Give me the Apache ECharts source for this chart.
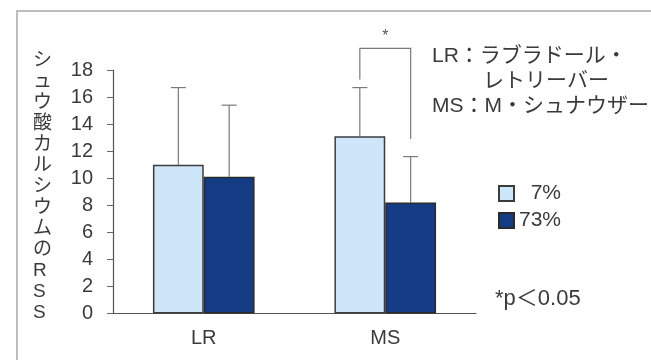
<!DOCTYPE html>
<html>
<head>
<meta charset="utf-8">
<script src="https://cdn.jsdelivr.net/npm/echarts@6/dist/echarts.min.js"></script>
<style>
  html, body { margin: 0; padding: 0; background: #fff; }
  #chart { width: 651px; height: 360px; }
</style>
</head>
<body>
<div id="chart"></div>
<script>
// Urine calcium oxalate RSS by breed and diet group
const categories = ['LR', 'MS'];
const seriesNames = ['7%', '73%'];
const rss7 = [11.0, 13.1];
const rss73 = [10.1, 8.2];
const sdUpper7 = [16.7, 16.7];
const sdUpper73 = [15.4, 11.6];
const yTicks = [0, 2, 4, 6, 8, 10, 12, 14, 16, 18];

// significance bracket over MS (value-space heights of its legs and top)
const sigCategory = 1;
const sigLeftLeg = 17.3;
const sigRightLeg = 12.9;
const sigTop = 19.6;
const sigStarLevel = 20.5;

const FONT = '"Liberation Sans", "Noto Sans CJK JP", sans-serif';
const TEXT = '#3a3a3a';
const LIGHT = '#cde6fa';
const DARK = '#143c84';
const CAT_GAP = 0.44;

const chart = echarts.init(document.getElementById('chart'), null, { renderer: 'canvas' });

const errData = [];
categories.forEach((c, i) => {
  errData.push([i, 0, rss7[i], sdUpper7[i]]);
  errData.push([i, 1, rss73[i], sdUpper73[i]]);
});

function barCenter(api, cat, s) {
  const band = api.size([1, 0])[0];
  const bw = band * (1 - CAT_GAP) / 2;
  return api.coord([cat, 0])[0] + (s === 0 ? -bw / 2 : bw / 2);
}

const yAxisTitle = 'シュウ酸カルシウムのRSS'.split('').join('\n');

chart.setOption({
  backgroundColor: '#fff',
  animation: false,
  grid: { left: 113, right: 175, top: 70, bottom: 46.5 },
  legend: {
    orient: 'vertical',
    left: 493,
    top: 178,
    itemWidth: 15,
    itemHeight: 15,
    itemGap: 6,
    icon: 'rect',
    data: seriesNames,
    formatter: n => (n === '7%' ? '\u20077%' : n),
    textStyle: { fontFamily: FONT, fontSize: 21, color: TEXT, lineHeight: 20 }
  },
  xAxis: {
    type: 'category',
    data: categories,
    axisLine: { lineStyle: { color: '#555', width: 1.2 } },
    axisTick: { length: 7, lineStyle: { color: '#666' } },
    axisLabel: { fontFamily: FONT, fontSize: 20, color: TEXT, margin: 15 }
  },
  yAxis: {
    type: 'value',
    min: 0,
    max: 18,
    interval: 2,
    splitLine: { show: false },
    axisLine: { show: true, lineStyle: { color: '#555', width: 1.2 } },
    axisTick: { show: true, length: 6, lineStyle: { color: '#666' } },
    axisLabel: {
      fontFamily: FONT, fontSize: 20, color: TEXT, margin: 20,
      formatter: v => (yTicks.includes(v) ? String(v) : '')
    }
  },
  series: [
    {
      name: seriesNames[0],
      type: 'bar',
      data: rss7,
      barGap: '0%',
      barCategoryGap: '44%',
      z: 3,
      itemStyle: { color: LIGHT, borderColor: '#3c3c3c', borderWidth: 1.5 }
    },
    {
      name: seriesNames[1],
      type: 'bar',
      data: rss73,
      barGap: '0%',
      barCategoryGap: '44%',
      z: 3,
      itemStyle: { color: DARK, borderColor: '#2a2a2a', borderWidth: 1.5 }
    },
    {
      // SD whiskers above each bar
      type: 'custom',
      z: 2,
      silent: true,
      clip: false,
      data: errData,
      renderItem: (params, api) => {
        const cat = api.value(0), s = api.value(1);
        const x = barCenter(api, cat, s);
        const y0 = api.coord([cat, api.value(2)])[1];
        const y1 = api.coord([cat, api.value(3)])[1];
        const st = { stroke: '#7a7a7a', lineWidth: 1.2 };
        return {
          type: 'group',
          children: [
            { type: 'line', shape: { x1: x, y1: y0, x2: x, y2: y1 }, style: st },
            { type: 'line', shape: { x1: x - 7.5, y1: y1, x2: x + 7.5, y2: y1 }, style: st }
          ]
        };
      }
    },
    {
      // significance bracket with asterisk
      type: 'custom',
      z: 4,
      silent: true,
      clip: false,
      data: [[sigCategory, sigLeftLeg, sigRightLeg, sigTop, sigStarLevel]],
      renderItem: (params, api) => {
        const cat = api.value(0);
        const xl = barCenter(api, cat, 0);
        const xr = barCenter(api, cat, 1);
        const yl = api.coord([cat, api.value(1)])[1];
        const yr = api.coord([cat, api.value(2)])[1];
        const yt = api.coord([cat, api.value(3)])[1];
        const ys = api.coord([cat, api.value(4)])[1];
        return {
          type: 'group',
          children: [
            {
              type: 'polyline',
              shape: { points: [[xl, yl], [xl, yt], [xr, yt], [xr, yr]] },
              style: { stroke: '#7a7a7a', lineWidth: 1.2, fill: null }
            },
            {
              type: 'text',
              style: {
                x: (xl + xr) / 2, y: ys, text: '*',
                align: 'center', verticalAlign: 'middle',
                font: '16px ' + FONT, fill: '#555'
              }
            }
          ]
        };
      }
    }
  ],
  graphic: [
    {
      type: 'rect',
      shape: { x: 17, y: 11, width: 700, height: 400 },
      style: { fill: null, stroke: '#a8a8a8', lineWidth: 1.5 },
      silent: true
    },
    {
      type: 'text',
      left: 33,
      top: 50,
      style: {
        text: yAxisTitle,
        font: '19px ' + FONT,
        lineHeight: 21,
        align: 'center',
        fill: TEXT
      }
    },
    {
      type: 'text', left: 432, top: 46,
      style: { text: 'LR：ラブラドール・', font: '21px ' + FONT, fill: TEXT }
    },
    {
      type: 'text', left: 483, top: 71,
      style: { text: 'レトリーバー', font: '21px ' + FONT, fill: TEXT }
    },
    {
      type: 'text', left: 432, top: 96,
      style: { text: 'MS：M・シュナウザー', font: '21px ' + FONT, fill: TEXT }
    },
    {
      type: 'text', left: 495, top: 288,
      style: { text: '*p＜0.05', font: '22px ' + FONT, fill: TEXT }
    }
  ]
});
</script>
</body>
</html>
